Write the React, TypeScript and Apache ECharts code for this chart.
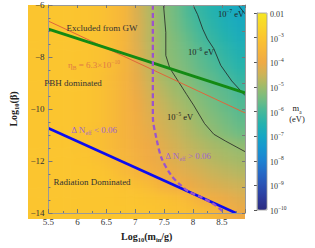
import React, { useEffect, useRef } from "react";
import * as echarts from "echarts";

const SERIF = '"Liberation Serif", "DejaVu Serif", serif';

// log10(m_a / eV) read from the colour field, cells centred on these values
const xCenters = [5.6, 5.8, 6.0, 6.2, 6.4, 6.6, 6.8, 7.0, 7.2, 7.4, 7.6, 7.8, 8.0, 8.2, 8.4, 8.6, 8.8];
const yCenters = [-6.25, -6.75, -7.25, -7.75, -8.25, -8.75, -9.25, -9.75, -10.25, -10.75, -11.25, -11.75, -12.25, -12.75, -13.25, -13.75];

const r0625 = [-3.0, -3.0, -3.0, -3.0, -3.05, -3.1, -3.3, -3.55, -4.3, -4.75, -5.2, -5.5, -5.9, -6.25, -6.5, -6.75, -6.95];
const r0675 = [-3.0, -3.0, -3.0, -3.0, -3.05, -3.1, -3.3, -3.55, -4.25, -4.7, -5.15, -5.45, -5.8, -6.1, -6.4, -6.65, -6.85];
const r0725 = [-3.0, -3.0, -3.0, -3.0, -3.05, -3.1, -3.3, -3.55, -4.25, -4.7, -5.1, -5.35, -5.65, -5.95, -6.25, -6.5, -6.75];
const r0775 = [-3.0, -3.0, -3.0, -3.0, -3.05, -3.1, -3.3, -3.6, -4.2, -4.65, -5.1, -5.3, -5.55, -5.8, -6.05, -6.35, -6.6];
const r0825 = [-3.0, -3.0, -3.0, -3.0, -3.05, -3.1, -3.3, -3.6, -4.15, -4.6, -5.05, -5.25, -5.45, -5.7, -5.9, -6.2, -6.45];
const r0875 = [-3.0, -3.0, -3.0, -3.0, -3.05, -3.15, -3.35, -3.65, -4.1, -4.5, -4.85, -5.1, -5.3, -5.55, -5.75, -5.95, -6.25];
const r0925 = [-3.0, -3.0, -3.0, -3.0, -3.05, -3.15, -3.35, -3.65, -4.05, -4.4, -4.7, -4.95, -5.15, -5.4, -5.6, -5.75, -5.95];
const r0975 = [-3.0, -3.0, -3.0, -3.0, -3.05, -3.15, -3.35, -3.65, -3.95, -4.3, -4.55, -4.8, -5.0, -5.25, -5.45, -5.65, -5.85];
const r1025 = [-3.0, -3.0, -3.0, -3.0, -3.05, -3.15, -3.35, -3.65, -3.9, -4.2, -4.45, -4.65, -4.85, -5.1, -5.3, -5.5, -5.7];
const r1075 = [-3.0, -3.0, -3.0, -3.05, -3.1, -3.2, -3.4, -3.65, -3.85, -4.1, -4.35, -4.55, -4.75, -4.95, -5.15, -5.35, -5.55];
const r1125 = [-3.0, -3.0, -3.0, -3.05, -3.1, -3.2, -3.4, -3.6, -3.8, -4.0, -4.2, -4.4, -4.6, -4.75, -4.9, -5.0, -5.15];
const r1175 = [-3.0, -3.0, -3.0, -3.0, -3.05, -3.15, -3.35, -3.55, -3.75, -3.95, -4.1, -4.3, -4.45, -4.6, -4.75, -4.85, -4.95];
const r1225 = [-3.0, -3.0, -3.0, -3.0, -3.0, -3.05, -3.15, -3.4, -3.6, -3.8, -3.95, -4.1, -4.25, -4.4, -4.55, -4.65, -4.75];
const r1275 = [-3.0, -3.0, -3.0, -3.0, -3.0, -3.0, -3.05, -3.1, -3.2, -3.35, -3.7, -3.85, -4.0, -4.15, -4.3, -4.4, -4.5];
const r1325 = [-3.0, -3.0, -3.0, -3.0, -3.0, -3.0, -3.0, -3.05, -3.05, -3.1, -3.15, -3.25, -3.4, -3.75, -3.9, -4.05, -4.2];
const r1375 = [-3.0, -3.0, -3.0, -3.0, -3.0, -3.0, -3.0, -3.0, -3.05, -3.05, -3.1, -3.15, -3.2, -3.3, -3.45, -3.75, -4.0];
const massRows = [r0625, r0675, r0725, r0775, r0825, r0875, r0925, r0975, r1025, r1075, r1125, r1175, r1225, r1275, r1325, r1375];

// boundary lines [log10(m_in/g), log10(beta)]
const gwLine = [[5.5, -6.93], [8.9, -9.38]];
const etaLine = [[5.5, -6.62], [8.9, -10.15]];
const radLine = [[5.5, -10.74], [8.74, -14]];
const dNeffLine = [[7.306, -6], [7.306, -10.3], [7.37, -11.16], [7.46, -11.91], [7.62, -12.54], [7.78, -12.92], [7.93, -13.18], [8.15, -13.4], [8.36, -13.66], [8.55, -14]];
const contour5 = [[7.49, -6], [7.53, -7.05], [7.53, -7.94], [7.6, -8.43], [7.73, -8.88], [7.89, -9.44], [8.01, -9.85], [8.2, -10.56], [8.36, -10.97], [8.56, -11.23], [8.9, -11.64]];
const contour6 = [[8.0, -6], [8.08, -6.37], [8.17, -6.93], [8.25, -7.31], [8.36, -7.68], [8.48, -8.32], [8.67, -8.92], [8.9, -9.48]];
const contour7 = [[8.78, -6], [8.9, -6.34]];

const colormap = [
  "#2b2a80", "#2d3c9c", "#2b52b4", "#2669c6", "#1d82d2", "#1696d0", "#15a7c4", "#24b2ae",
  "#45b89a", "#72bc82", "#9dbb6b", "#cdb358", "#efaa45", "#f7b73a", "#fbc52f", "#f9d62a", "#f6e722",
];

const X_MIN = 5.5, X_MAX = 8.9, Y_MIN = -14, Y_MAX = -6;
const cellHalfW = 0.1;
const cellHalfH = 0.25;
const PLOT = { left: 28, top: 5, width: 217, height: 214 };
const PAD = 14;

export default function App() {
  const ref = useRef<HTMLDivElement>(null);
  const heatRef = useRef<HTMLDivElement>(null);
  useEffect(() => {
    document.body.style.margin = "0";
    const cells: number[][] = [];
    massRows.forEach((row, j) => row.forEach((v, i) => cells.push([xCenters[i], yCenters[j], v])));

    // blurred colour field, underneath
    const heat = echarts.init(heatRef.current!, null, { renderer: "svg" });
    const W = PLOT.width + 2 * PAD, H = PLOT.height + 2 * PAD;
    heat.setOption({
      animation: false,
      grid: { left: PAD, top: PAD, width: PLOT.width, height: PLOT.height },
      xAxis: { type: "value", min: X_MIN, max: X_MAX, show: false },
      yAxis: { type: "value", min: Y_MIN, max: Y_MAX, show: false },
      visualMap: { type: "continuous", show: false, min: -10, max: -2, dimension: 2, seriesIndex: 0, inRange: { color: colormap } },
      series: [
        {
          type: "custom",
          data: cells,
          clip: false,
          renderItem: (params: any, api: any) => {
            const x = api.value(0);
            const y = api.value(1);
            const a = api.coord([x - cellHalfW, y + cellHalfH]);
            const b = api.coord([x + cellHalfW, y - cellHalfH]);
            let x0 = a[0], y0 = a[1], x1 = b[0] + 0.6, y1 = b[1] + 0.6;
            if (x - cellHalfW <= X_MIN + 1e-6) x0 = 0;
            if (x + cellHalfW >= X_MAX - 1e-6) x1 = W;
            if (y + cellHalfH >= Y_MAX - 1e-6) y0 = 0;
            if (y - cellHalfH <= Y_MIN + 1e-6) y1 = H;
            return {
              type: "rect",
              shape: { x: x0, y: y0, width: x1 - x0, height: y1 - y0 },
              style: { fill: api.visual("color") },
            };
          },
        },
      ],
    });

    const chart = echarts.init(ref.current!, null, { renderer: "svg" });
    const tickFont = { color: "#333", fontFamily: SERIF, fontSize: 9 };
    const frameLine = { lineStyle: { color: "#999", width: 1 } };
    const supRich = {
      b: { fontFamily: SERIF, fontSize: 8, color: "#333", verticalAlign: "bottom", lineHeight: 11 },
      s: { fontFamily: SERIF, fontSize: 5.5, color: "#333", verticalAlign: "top", lineHeight: 11 },
    };
    const nameRich = {
      n: { fontFamily: SERIF, fontSize: 10, fontWeight: "bold", color: "#222", lineHeight: 13, verticalAlign: "middle" },
      s: { fontFamily: SERIF, fontSize: 6.5, fontWeight: "bold", color: "#222", lineHeight: 13, verticalAlign: "bottom" },
    };
    const T = (x: number, y: number, text: string, fill: string, rich?: any, size = 9) => ({
      type: "text",
      x,
      y,
      z: 100,
      style: { text, fill, fontFamily: SERIF, fontSize: size, align: "center", verticalAlign: "middle", rich },
    });
    const mk = (fill: string, size = 9) => ({
      a: { fill, fontFamily: SERIF, fontSize: size, verticalAlign: "middle", lineHeight: 12 },
      b: { fill, fontFamily: SERIF, fontSize: size * 0.62, verticalAlign: "bottom", lineHeight: 12 },
      c: { fill, fontFamily: SERIF, fontSize: size * 0.62, verticalAlign: "top", lineHeight: 12 },
    });
    const lineSeries = (data: number[][], color: string, width: number, extra: any = {}) => ({
      type: "line",
      xAxisIndex: 0,
      yAxisIndex: 0,
      data,
      symbol: "none",
      clip: true,
      lineStyle: { color, width, ...(extra.lineStyle || {}) },
      smooth: extra.smooth || false,
      z: extra.z || 3,
    });

    chart.setOption({
      animation: false,
      grid: [
        { ...PLOT },
        { left: 257, top: 13, width: 10, height: 197 },
      ],
      xAxis: [
        {
          type: "value", gridIndex: 0, min: X_MIN, max: X_MAX, interval: 0.5, z: 10,
          axisLine: frameLine,
          axisTick: { inside: true, length: 4, lineStyle: { color: "#777" } },
          minorTick: { show: true, splitNumber: 2, length: 2, lineStyle: { color: "#777" } },
          splitLine: { show: false },
          axisLabel: { ...tickFont, margin: 4, showMaxLabel: false, formatter: (v: number) => String(v) },
          name: "{n|Log}{s|10}{n|(m}{s|in}{n|/g)}",
          nameLocation: "middle",
          nameGap: 17,
          nameTextStyle: { rich: nameRich },
        },
        {
          type: "value", gridIndex: 0, min: X_MIN, max: X_MAX, interval: 0.5, position: "top", z: 10,
          axisLine: frameLine,
          axisTick: { inside: true, length: 3, lineStyle: { color: "#777" } },
          axisLabel: { show: false },
          splitLine: { show: false },
        },
        { type: "value", gridIndex: 1, min: 0, max: 1, show: false },
      ],
      yAxis: [
        {
          type: "value", gridIndex: 0, min: Y_MIN, max: Y_MAX, interval: 2, z: 10,
          axisLine: frameLine,
          axisTick: { inside: true, length: 4, lineStyle: { color: "#777" } },
          minorTick: { show: true, splitNumber: 4, length: 2, lineStyle: { color: "#777" } },
          splitLine: { show: false },
          axisLabel: { ...tickFont, margin: 4, formatter: (v: number) => (v < 0 ? "\u2212" + Math.abs(v) : String(v)) },
          name: "{n|Log}{s|10}{n|(\u03b2)}",
          nameLocation: "middle",
          nameGap: 19,
          nameRotate: 90,
          nameTextStyle: { rich: nameRich },
        },
        {
          type: "value", gridIndex: 0, min: Y_MIN, max: Y_MAX, interval: 1, position: "right", z: 10,
          axisLine: frameLine,
          axisTick: { inside: true, length: 3, lineStyle: { color: "#777" } },
          axisLabel: { show: false },
          splitLine: { show: false },
        },
        {
          type: "value", gridIndex: 1, min: -10, max: -2, interval: 1, position: "right", z: 10,
          axisLine: { lineStyle: { color: "#999", width: 0.8 } },
          axisTick: { inside: true, length: 3, lineStyle: { color: "#555" } },
          splitLine: { show: false },
          axisLabel: {
            margin: 3,
            formatter: (v: number) => (v === -2 ? "{b|0.01}" : "{b|10}{s|\u2212" + Math.abs(v) + "}"),
            rich: supRich,
          },
        },
      ],
      visualMap: {
        type: "continuous",
        min: -10,
        max: -2,
        dimension: 2,
        seriesIndex: 0,
        left: 257,
        top: 13,
        itemWidth: 10,
        itemHeight: 197,
        padding: 0,
        calculable: false,
        hoverLink: false,
        text: ["", ""],
        inRange: { color: colormap },
      },
      graphic: [
        { type: "rect", z: 100, shape: { x: 257, y: 13, width: 10, height: 197 }, style: { fill: "none", stroke: "#999", lineWidth: 0.8 } },
        T(102, 28, "Excluded from GW", "#333"),
        T(94, 65, "{a|\u03b7}{b|B}{a| = 6.3\u00d710}{c|\u221210}", "#e07a45", mk("#e07a45")),
        T(73, 83, "PBH dominated", "#333"),
        T(94, 130, "{a|\u0394 N}{b|eff}{a| < 0.06}", "#a066c8", mk("#a066c8")),
        T(92, 182, "Radiation Dominated", "#333"),
        T(188, 156, "{a|\u0394 N}{b|eff}{a| > 0.06}", "#a066c8", mk("#a066c8")),
        T(231, 14, "{a|10}{c|\u22127}{a| eV}", "#222", mk("#222", 8.5)),
        T(201, 52, "{a|10}{c|\u22126}{a| eV}", "#222", mk("#222", 8.5)),
        T(180, 117, "{a|10}{c|\u22125}{a| eV}", "#222", mk("#222", 8.5)),
        T(297, 108, "{a|m}{b|a}", "#222", mk("#222", 8.5)),
        T(297, 119, "(eV)", "#222", undefined, 8.5),
      ],
      series: [
        { type: "custom", xAxisIndex: 0, yAxisIndex: 0, data: [], renderItem: () => null },
        lineSeries(contour5, "#222", 0.8),
        lineSeries(contour6, "#222", 0.8),
        lineSeries(contour7, "#222", 0.8),
        lineSeries(etaLine, "#e0663a", 1),
        lineSeries(gwLine, "#138a13", 3),
        lineSeries(radLine, "#0c0cf0", 2.5),
        lineSeries(dNeffLine, "#9b55cc", 2.3, { smooth: 0.3, lineStyle: { type: [5, 3] }, z: 4 }),
      ],
    });
    return () => {
      chart.dispose();
      heat.dispose();
    };
  }, []);
  return (
    <div style={{ position: "relative", width: 315, height: 248 }}>
      <div
        style={{
          position: "absolute",
          left: PLOT.left,
          top: PLOT.top,
          width: PLOT.width,
          height: PLOT.height,
          overflow: "hidden",
        }}
      >
        <div
          ref={heatRef}
          style={{
            position: "absolute",
            left: -PAD,
            top: -PAD,
            width: PLOT.width + 2 * PAD,
            height: PLOT.height + 2 * PAD,
            filter: "blur(5px)",
          }}
        />
      </div>
      <div ref={ref} style={{ position: "absolute", left: 0, top: 0, width: 315, height: 248 }} />
    </div>
  );
}
